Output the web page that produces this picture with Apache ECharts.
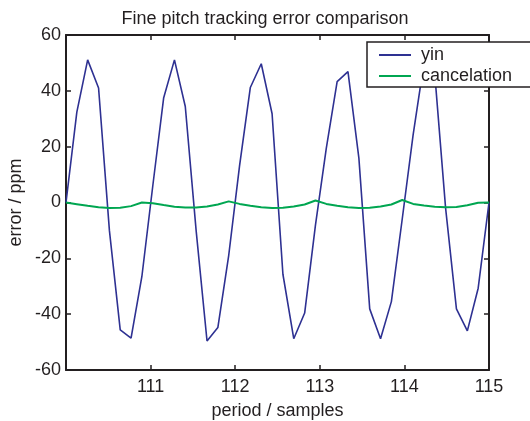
<!DOCTYPE html>
<html>
<head>
<meta charset="utf-8">
<script src="https://cdn.jsdelivr.net/npm/echarts@6/dist/echarts.min.js"></script>
<style>
  html, body { margin: 0; padding: 0; background: #fff; }
  #chart { width: 530px; height: 421px; }
</style>
</head>
<body>
<div id="chart"></div>
<script>
// period / samples (40 points from 110 to 115)
var periods = [
  110.000, 110.128, 110.256, 110.385, 110.513, 110.641, 110.769, 110.897,
  111.026, 111.154, 111.282, 111.410, 111.538, 111.667, 111.795, 111.923,
  112.051, 112.179, 112.308, 112.436, 112.564, 112.692, 112.821, 112.949,
  113.077, 113.205, 113.333, 113.462, 113.590, 113.718, 113.846, 113.974,
  114.103, 114.231, 114.359, 114.487, 114.615, 114.744, 114.872, 115.000
];
// error / ppm
var yinError = [
  0, 32.4, 51.1, 41.0, -10, -45.6, -48.6, -26.5,
  6, 37.4, 51.1, 34.4, -10, -49.6, -44.8, -19,
  13, 41.2, 49.7, 31.8, -25.7, -48.8, -39.6, -8,
  19.5, 43.3, 46.9, 15.9, -38.1, -48.8, -35.5, -6,
  24.2, 50, 46, -2, -38.1, -46, -30.7, 0
];
var cancelError = [
  0, -0.6, -1.2, -1.7, -2.0, -1.9, -1.3, 0.0,
  -0.25, -0.9, -1.5, -1.8, -1.8, -1.4, -0.7, 0.4,
  -0.5, -1.2, -1.7, -2.0, -1.9, -1.4, -0.7, 0.7,
  -0.5, -1.2, -1.7, -2.0, -1.9, -1.4, -0.7, 0.9,
  -0.5, -1.1, -1.5, -1.7, -1.6, -1.0, -0.1, 0
];
var xTicks = [110, 115, 1];
var yTicks = [-60, 60, 20];

function pairs(ys) {
  return periods.map(function (x, i) { return [x, ys[i]]; });
}

var font = "'Liberation Sans', Arial, Helvetica, sans-serif";
var ink = "#231f20";

// shared look of the box axes (MATLAB style: ticks inside, full frame)
function frameAxis(extra) {
  var base = {
    type: "value",
    axisLine: { show: true, onZero: false, lineStyle: { color: ink, width: 2 } },
    axisTick: { show: true, inside: true, length: 5, lineStyle: { color: ink, width: 1.5 } },
    splitLine: { show: false }
  };
  return Object.assign(base, extra);
}

var chart = echarts.init(document.getElementById("chart"));
chart.setOption({
  animation: false,
  title: {
    text: "Fine pitch tracking error comparison",
    left: "center",
    top: 5,
    textStyle: { fontFamily: font, fontSize: 18, fontWeight: "normal", color: ink }
  },
  grid: { left: 66, right: 41, top: 35, bottom: 51, containLabel: false, outerBoundsMode: "none" },
  legend: {
    orient: "vertical",
    left: 367,
    top: 42,
    padding: [4, 30, 2, 12],
    itemWidth: 32,
    itemHeight: 14,
    itemGap: 3,
    backgroundColor: "#fff",
    borderColor: ink,
    borderWidth: 1.5,
    borderRadius: 0,
    icon: "path://M0,6 L32,6 L32,8 L0,8 Z",
    textStyle: { fontFamily: font, fontSize: 18, color: ink, lineHeight: 18, padding: [0, 0, 0, 5] },
    data: ["yin", "cancelation"]
  },
  xAxis: [
    frameAxis({
      min: xTicks[0], max: xTicks[1], interval: xTicks[2],
      name: "period / samples",
      nameLocation: "middle",
      nameGap: 32,
      nameTextStyle: { fontFamily: font, fontSize: 18, color: ink },
      axisLabel: {
        fontFamily: font, fontSize: 18, color: ink, margin: 8,
        formatter: function (v) { return v === xTicks[0] ? "" : String(v); }
      }
    }),
    frameAxis({
      position: "top",
      min: xTicks[0], max: xTicks[1], interval: xTicks[2],
      axisLabel: { show: false }
    })
  ],
  yAxis: [
    frameAxis({
      min: yTicks[0], max: yTicks[1], interval: yTicks[2],
      name: "error / ppm",
      nameLocation: "middle",
      nameGap: 41,
      nameMoveOverlap: false,
      nameTextStyle: { fontFamily: font, fontSize: 18, color: ink },
      axisLabel: { fontFamily: font, fontSize: 18, color: ink, margin: 5 }
    }),
    frameAxis({
      position: "right",
      min: yTicks[0], max: yTicks[1], interval: yTicks[2],
      axisLabel: { show: false }
    })
  ],
  series: [
    {
      name: "yin",
      type: "line",
      data: pairs(yinError),
      showSymbol: false,
      color: "#2e3192",
      lineStyle: { color: "#2e3192", width: 1.6 }
    },
    {
      name: "cancelation",
      type: "line",
      data: pairs(cancelError),
      showSymbol: false,
      color: "#00a651",
      lineStyle: { color: "#00a651", width: 2 }
    }
  ]
});
</script>
</body>
</html>
